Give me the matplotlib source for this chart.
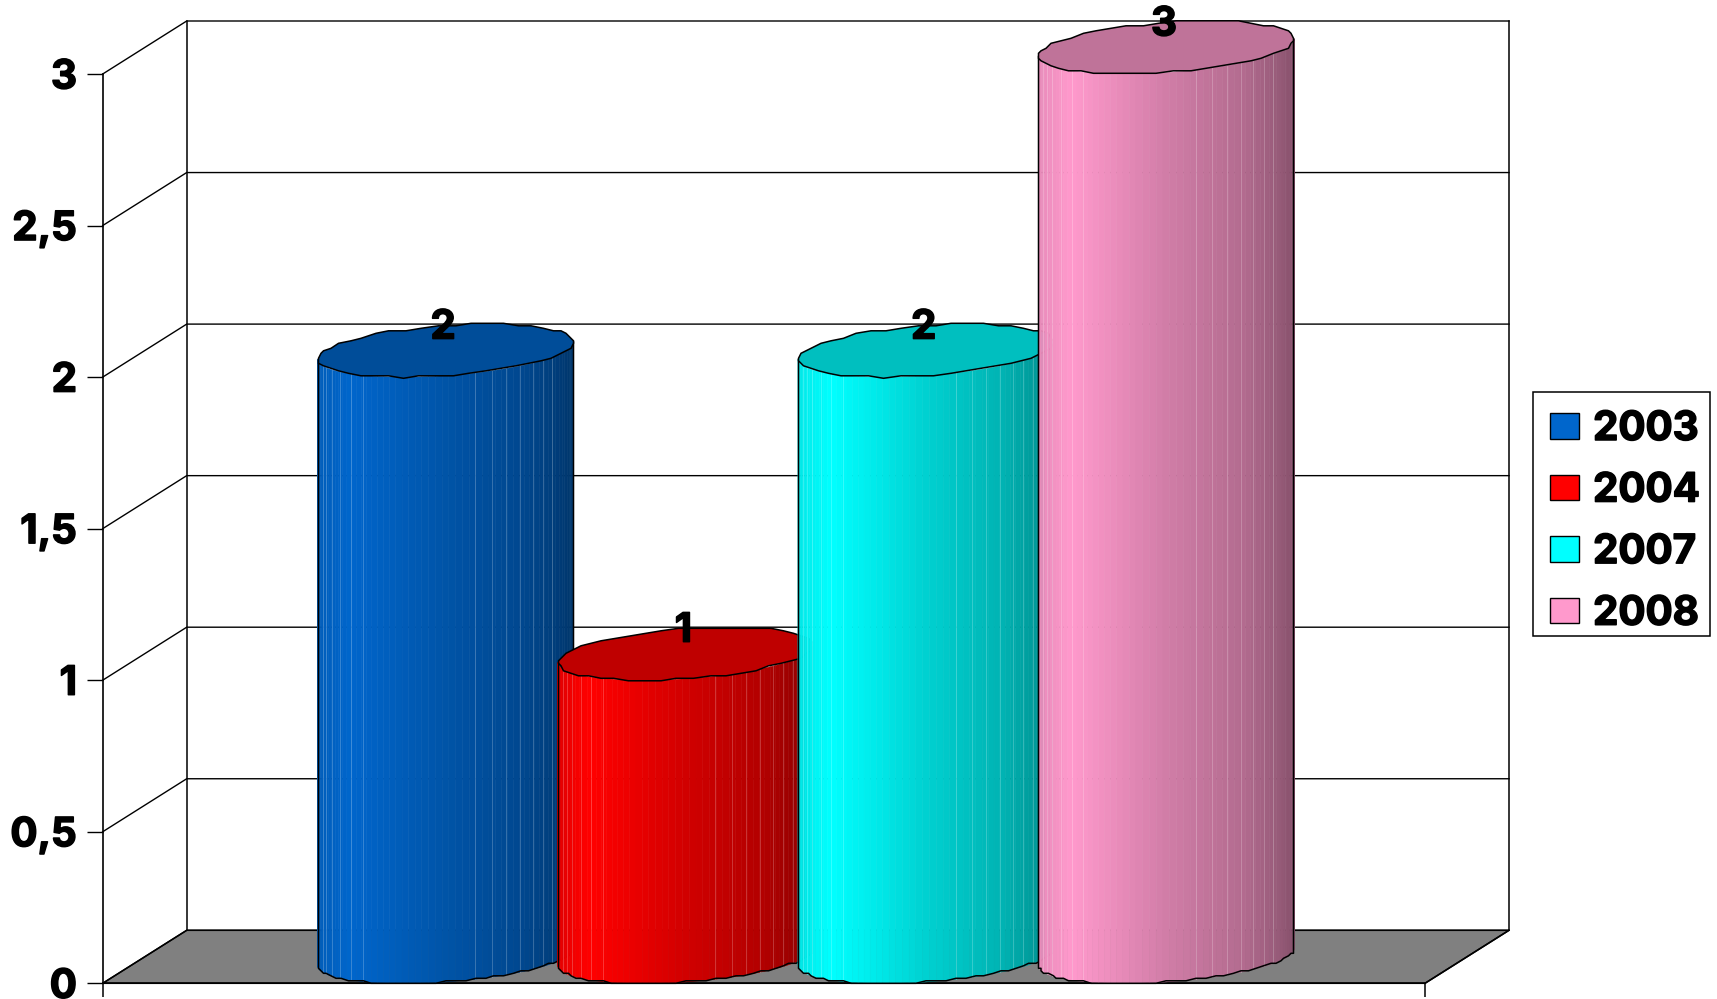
import numpy as np
import matplotlib
matplotlib.use("Agg")
import matplotlib.pyplot as plt
import matplotlib.patheffects as pe
from matplotlib.patches import Patch, Rectangle

years = ["2003", "2004", "2007", "2008"]
values = [2, 1, 2, 3]
colors = ["#0066CC", "#FF0000", "#00FFFF", "#FF99CC"]
yticks = [0, 0.5, 1, 1.5, 2, 2.5, 3]
yticklabels = ["0", "0,5", "1", "1,5", "2", "2,5", "3"]

plt.rcParams["font.family"] = ["Inter", "Liberation Sans", "DejaVu Sans"]
plt.rcParams["font.weight"] = "bold"
HEAVY = [pe.withStroke(linewidth=1.1, foreground="black")]

W, H = 1717, 999
fig = plt.figure(figsize=(W / 100, H / 100), dpi=100, facecolor="white")
# axes = front plane of the oblique 3D box
L, R, T, B = 102.7, 1425.0, 74.0, 983.3
ax = fig.add_axes([L / W, 1 - B / H, (R - L) / W, (B - T) / H], facecolor="none")
XMIN, XMAX = -1.2518, 4.2510
ax.set_xlim(XMIN, XMAX)
ax.set_ylim(0, 3)
PX = (R - L) / (XMAX - XMIN)
PY = (B - T) / 3
DX, DY = 84.0 / PX, 53.0 / PY          # box depth in data units
RAD = 121.0 / PX                       # cylinder radius
QUANT = 2.5                            # coarse vertex grid (px) of the faceted outlines


def shade(c, f):
    rgb = np.array(matplotlib.colors.to_rgb(c))
    return tuple(np.clip(rgb * f, 0, 1))


def coarse(x, y):
    qx, qy = QUANT / PX, QUANT / PY
    return np.round(x / qx) * qx, np.round(y / qy) * qy


# floor
ax.fill([XMIN, XMAX, XMAX + DX, XMIN + DX], [0, 0, DY, DY], facecolor="#808080",
        edgecolor="black", lw=1.1, clip_on=False, zorder=1)
# walls and gridlines
for v in yticks:
    ax.plot([XMIN, XMIN + DX, XMAX + DX], [v, v + DY, v + DY], color="black", lw=1.0,
            clip_on=False, zorder=1.5, solid_joinstyle="miter")
for x in (XMIN + DX, XMAX + DX):
    ax.plot([x, x], [DY, 3 + DY], color="black", lw=1.1, clip_on=False, zorder=1.5)
ax.plot([XMAX, XMAX + DX], [0, DY], color="black", lw=1.1, clip_on=False, zorder=1.5)

SHADE_U = [0, 0.03, 0.13, 0.5, 0.8, 0.93, 1]
SHADE_F = [0.90, 0.93, 1.0, 0.82, 0.70, 0.60, 0.53]
LIGHT_U = [0.02, 0.035, 0.055, 0.09, 0.13, 0.176, 0.615, 0.68, 0.735, 0.79, 0.84, 0.88, 0.917]


def ring(cx, v, t):
    return (cx + RAD * np.cos(t) + DX * (0.5 + 0.5 * np.sin(t)),
            v + DY * (0.5 + 0.5 * np.sin(t)))


for i, (val, col, yr) in enumerate(zip(values, colors, years)):
    z = 3 + i
    a = np.arctan((DX * PX / 2) / (RAD * PX))
    t_front = np.linspace(np.pi + a, 2 * np.pi + a, 41)
    x_front, y_front = coarse(*ring(i, 0, t_front))
    # body strips
    fine = np.linspace(np.pi + a, 2 * np.pi + a, 60)
    fx, fy = ring(i, 0, fine)
    xl, xr = fx.min(), fx.max()
    u = (fx - xl) / (xr - xl)
    for k in range(len(fine) - 1):
        um = 0.5 * (u[k] + u[k + 1])
        c = shade(col, np.interp(um, SHADE_U, SHADE_F))
        ax.fill([fx[k], fx[k + 1], fx[k + 1], fx[k]],
                [fy[k], fy[k + 1], fy[k + 1] + val, fy[k] + val],
                facecolor=c, edgecolor=c, lw=0.4, clip_on=False, zorder=z)
    # thin light facet lines
    for lu in LIGHT_U:
        lx = xl + lu * (xr - xl)
        ly = np.interp(lu, u, fy)
        ax.plot([lx, lx], [ly, ly + val], color="white", alpha=0.22, lw=0.7,
                clip_on=False, zorder=z)
    # silhouette
    ax.plot(np.r_[x_front[0], x_front, x_front[-1]],
            np.r_[y_front[0] + val, y_front, y_front[-1] + val],
            color="black", lw=1.1, clip_on=False, zorder=z)
    # top face
    t_top = np.linspace(0, 2 * np.pi, 49)
    tx, ty = coarse(*ring(i, val, t_top))
    ax.fill(tx, ty, facecolor=shade(col, 0.75), edgecolor="black", lw=1.1,
            clip_on=False, zorder=z)

# value labels
for i, val in enumerate(values):
    ax.text(i + DX / 2 - 0.01, val + DY, str(val), ha="center", va="center_baseline",
            fontsize=29, fontweight="bold", color="black", clip_on=False, zorder=20,
            path_effects=HEAVY)

# axes
for s in ("top", "right"):
    ax.spines[s].set_visible(False)
ax.spines["left"].set_linewidth(1.2)
ax.spines["bottom"].set_linewidth(1.1)
ax.spines["left"].set_zorder(2.5)
ax.spines["bottom"].set_zorder(2.5)
ax.set_yticks(yticks)
ax.set_yticklabels(yticklabels, fontsize=29, fontweight="bold", path_effects=HEAVY)
ax.tick_params(axis="y", length=11.5, width=1.0, pad=7, color="black")
ax.set_xticks([XMIN, XMAX])
ax.set_xticklabels(["", ""])
ax.tick_params(axis="x", length=10, width=1.1, color="black")

# legend: frame plus entries
fig.add_artist(Rectangle((1532.7 / W, 1 - 636.0 / H), 177.3 / W, 244.0 / H,
                         transform=fig.transFigure, facecolor="white", edgecolor="black",
                         lw=1.1, zorder=5))
handles = [Patch(facecolor=c, edgecolor="black", linewidth=1.0, label=y)
           for c, y in zip(colors, years)]
leg = fig.legend(handles=handles, loc="upper left",
                 bbox_to_anchor=(1535 / W, 1 - 396.5 / H), borderaxespad=0,
                 prop={"size": 29, "weight": "bold"}, frameon=False,
                 handlelength=0.74, handleheight=0.6,
                 handletextpad=0.34, labelspacing=0.61, borderpad=0.36)
leg.set_zorder(6)
for t in leg.get_texts():
    t.set_path_effects(HEAVY)

fig.savefig("out.png", dpi=100)
